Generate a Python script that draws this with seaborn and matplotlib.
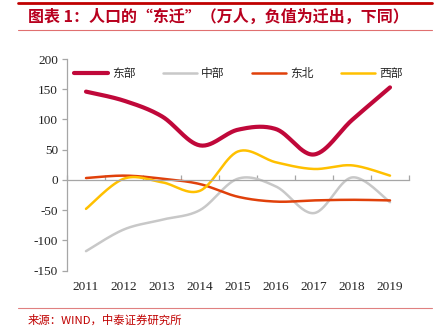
import numpy as np
import pandas as pd
import matplotlib
matplotlib.use("Agg")
import matplotlib.pyplot as plt
from matplotlib.lines import Line2D
from matplotlib.ticker import FixedLocator, NullFormatter
import seaborn as sns

# Net migration by region, 10k persons (negative = outflow)
years = ["2011", "2012", "2013", "2014", "2015", "2016", "2017", "2018", "2019"]
east = [146, 131, 105, 57, 83, 84, 42, 99, 153]
central = [-118, -82, -66, -50, 2, -11, -55, 4, -37]
northeast = [3, 7, 2, -7, -28, -36, -34, -33, -34]
west = [-48, 2, -4, -18, 47, 29, 18, 24, 7]

series_names = ["东部", "中部", "东北", "西部"]
series_values = [east, central, northeast, west]
series_colors = ["#C0083A", "#C8C8C8", "#E0400A", "#FFC000"]
series_widths = [3.0, 1.8, 1.8, 1.8]

title_text = "图表 1：人口的“东迁”（万人，负值为迁出，下同）"
source_text = "来源：WIND，中泰证券研究所"

sns.set_theme(style="white")
plt.rcParams["font.family"] = ["Noto Sans CJK SC", "DejaVu Sans"]


def smooth(values, steps=30):
    """Catmull-Rom style smoothing between consecutive points."""
    y = np.asarray(values, dtype=float)
    x = np.arange(len(y), dtype=float)
    pts = np.column_stack([x, y])
    ext = np.vstack([pts[0], pts, pts[-1]])
    out = []
    t = np.linspace(0, 1, steps, endpoint=False)[:, None]
    for i in range(1, len(ext) - 2):
        p0, p1, p2, p3 = ext[i - 1], ext[i], ext[i + 1], ext[i + 2]
        c1 = p1 + (p2 - p0) / 6.0
        c2 = p2 - (p3 - p1) / 6.0
        seg = ((1 - t) ** 3) * p1 + 3 * ((1 - t) ** 2) * t * c1 \
            + 3 * (1 - t) * t ** 2 * c2 + t ** 3 * p2
        out.append(seg)
    out.append(pts[-1][None, :])
    out = np.vstack(out)
    return out[:, 0], out[:, 1]


fig = plt.figure(figsize=(4.48, 3.31), dpi=100)
ax = fig.add_axes([67 / 448, 1 - 270.5 / 331, (409 - 67) / 448, (270.5 - 59) / 331])

frames = []
for name, vals in zip(series_names, series_values):
    sx, sy = smooth(vals)
    frames.append(pd.DataFrame({"x": sx, "y": sy, "region": name}))
df = pd.concat(frames, ignore_index=True)

for name, color, lw in zip(series_names, series_colors, series_widths):
    sub = df[df["region"] == name]
    sns.lineplot(data=sub, x="x", y="y", ax=ax, color=color, linewidth=lw,
                 sort=False, estimator=None, solid_capstyle="round")

ax.set_xlim(-0.5, len(years) - 0.5)
ax.set_ylim(-150, 200)
ax.set_xlabel("")
ax.set_ylabel("")

axis_gray = "#A6A6A6"
for side in ["top", "right"]:
    ax.spines[side].set_visible(False)
ax.spines["left"].set_color(axis_gray)
ax.spines["left"].set_linewidth(0.9)
ax.spines["bottom"].set_position(("data", 0))
ax.spines["bottom"].set_color(axis_gray)
ax.spines["bottom"].set_linewidth(0.9)

ax.set_yticks(np.arange(-150, 201, 50))
ax.set_yticklabels([str(v) for v in np.arange(-150, 201, 50)],
                   fontfamily="Liberation Serif", fontsize=9.5, color="#222222")
ax.tick_params(axis="y", direction="out", length=3.5, width=0.9,
               color=axis_gray, pad=3, left=True)

ax.set_xticks(np.arange(len(years)))
ax.set_xticklabels(years, fontfamily="Liberation Serif", fontsize=9.5,
                   color="#222222")
ax.tick_params(axis="x", which="major", length=0, pad=73, bottom=True)
ax.xaxis.set_minor_locator(FixedLocator(np.arange(-0.5, len(years), 1.0)))
ax.xaxis.set_minor_formatter(NullFormatter())
ax.tick_params(axis="x", which="minor", direction="in", length=3.5,
               width=0.9, color=axis_gray, bottom=True)

handles = [Line2D([0], [0], color=c, linewidth=w) for c, w in
           zip(series_colors, series_widths)]
ax.legend(handles, series_names, loc="upper center", ncol=4, frameon=False,
          bbox_to_anchor=(0.5, 1.0), fontsize=8.5, handlelength=2.9,
          handletextpad=0.35, columnspacing=2.3, borderaxespad=0.3)

# Header and footer decoration
fig.add_artist(Line2D([18 / 448, 432 / 448], [1 - 3.3 / 331] * 2,
                      color="#C00000", linewidth=2.0))
fig.add_artist(Line2D([18 / 448, 432 / 448], [1 - 30 / 331] * 2,
                      color="#E07070", linewidth=0.8))
fig.text(28 / 448, 1 - 17 / 331, title_text, color="#B8001E",
         fontsize=11.5, fontweight="bold", va="center", ha="left")
fig.add_artist(Line2D([18 / 448, 432 / 448], [1 - 307.5 / 331] * 2,
                      color="#E08080", linewidth=0.8))
fig.text(28 / 448, 1 - 320 / 331, source_text, color="#C00000",
         fontsize=8.2, va="center", ha="left")

fig.savefig("out.png", dpi=100)
